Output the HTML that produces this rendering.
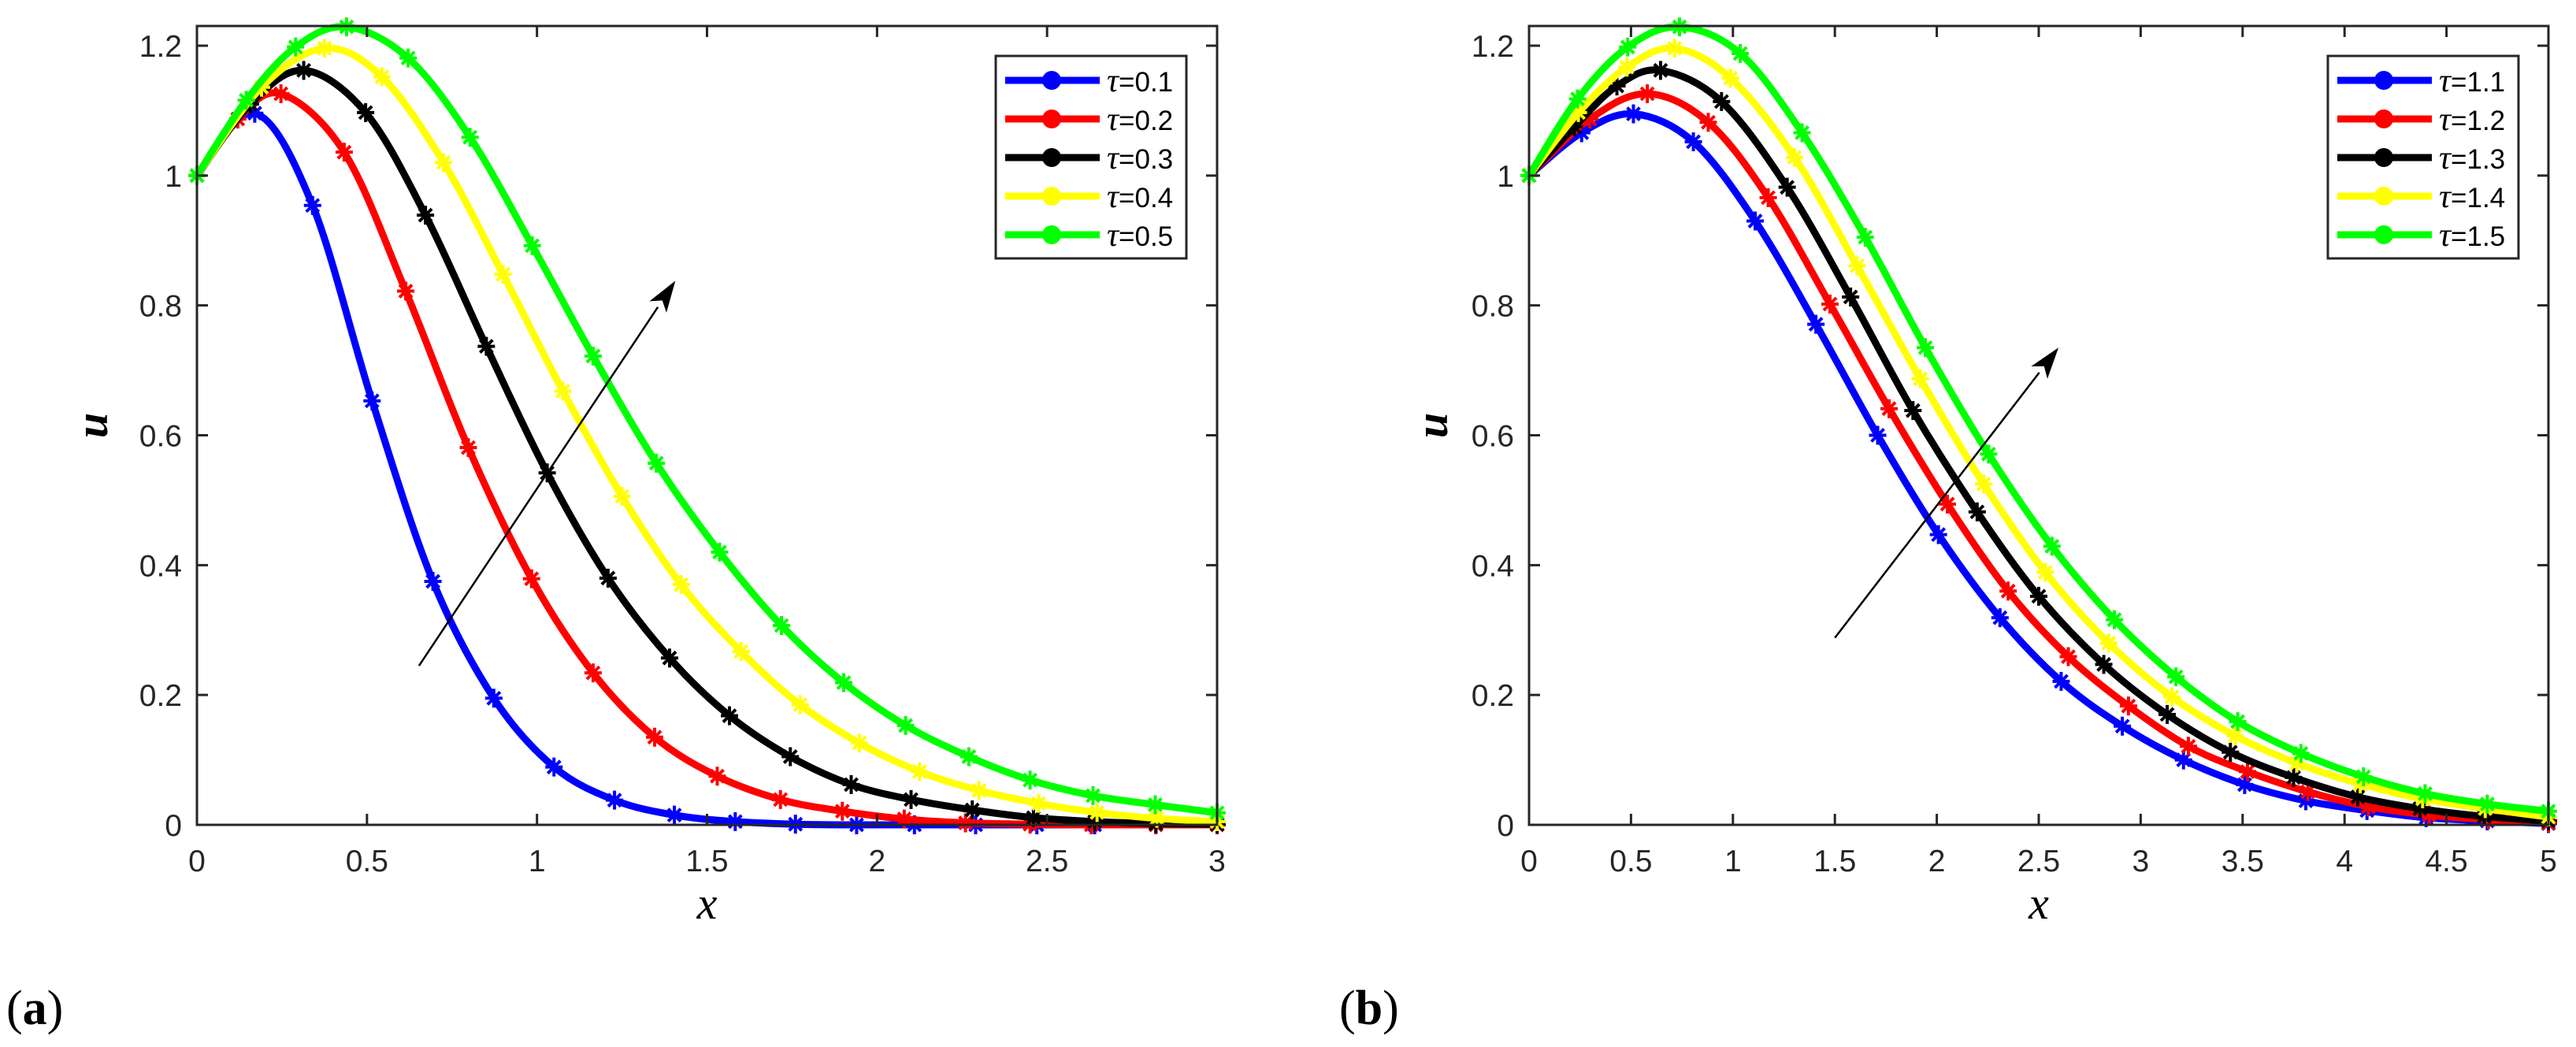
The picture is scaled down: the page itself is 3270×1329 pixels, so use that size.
<!DOCTYPE html>
<html><head><meta charset="utf-8"><style>
html,body{margin:0;padding:0;background:#fff;}
svg{display:block;}
</style></head><body>
<svg id="fig" width="3270" height="1329" viewBox="0 0 3270 1329" xmlns="http://www.w3.org/2000/svg" font-family="Liberation Sans, sans-serif"></svg>
<script>
// ---------- Panel (a) data ----------
const aTicksX = [0,0.5,1,1.5,2,2.5,3];
const aTickLabelsX = ["0","0.5","1","1.5","2","2.5","3"];
const ticksY = [0,0.2,0.4,0.6,0.8,1,1.2];
const tickLabelsY = ["0","0.2","0.4","0.6","0.8","1","1.2"];
const aLegend = ["τ=0.1","τ=0.2","τ=0.3","τ=0.4","τ=0.5"];
const a1x = [0,0.17,0.34,0.515,0.694,0.873,1.05,1.228,1.404,1.583,1.76,1.94,2.11,2.29,2.47,2.64,2.82,3.0];
const a1y = [1,1.096,0.954,0.653,0.375,0.195,0.089,0.038,0.015,0.005,0.001,0,0,0,0,0,0,0];
const a2x = [0,0.12,0.247,0.433,0.614,0.798,0.984,1.165,1.346,1.53,1.716,1.898,2.08,2.26,2.45,2.63,2.82,3.0];
const a2y = [1,1.087,1.126,1.036,0.822,0.581,0.379,0.234,0.135,0.075,0.039,0.021,0.009,0.003,0.001,0,0,0];
const a3x = [0,0.157,0.314,0.496,0.672,0.851,1.03,1.209,1.39,1.566,1.745,1.924,2.10,2.28,2.46,2.64,2.82,3.0];
const a3y = [1,1.11,1.162,1.097,0.939,0.737,0.542,0.380,0.257,0.168,0.105,0.062,0.039,0.023,0.011,0.005,0.002,0.001];
const a4x = [0,0.19,0.375,0.544,0.725,0.90,1.076,1.25,1.424,1.60,1.774,1.948,2.125,2.30,2.475,2.647,2.823,3.0];
const a4y = [1,1.136,1.196,1.152,1.02,0.848,0.668,0.506,0.37,0.267,0.185,0.126,0.082,0.053,0.033,0.019,0.010,0.005];
const a5x = [0,0.145,0.29,0.44,0.621,0.803,0.986,1.165,1.351,1.537,1.719,1.902,2.084,2.27,2.45,2.635,2.818,3.0];
const a5y = [1,1.116,1.198,1.229,1.181,1.059,0.892,0.722,0.557,0.42,0.307,0.219,0.153,0.105,0.069,0.045,0.031,0.0185];
const aArrow = [0.653,0.245,1.407,0.838];
// ---------- Panel (b) data ----------
const bTicksX = [0,0.5,1,1.5,2,2.5,3,3.5,4,4.5,5];
const bTickLabelsX = ["0","0.5","1","1.5","2","2.5","3","3.5","4","4.5","5"];
const bLegend = ["τ=1.1","τ=1.2","τ=1.3","τ=1.4","τ=1.5"];
const b1x = [0,0.258,0.512,0.806,1.109,1.407,1.71,2.008,2.31,2.61,2.91,3.21,3.51,3.81,4.11,4.40,4.70,5];
const b1y = [1,1.066,1.095,1.052,0.93,0.771,0.60,0.447,0.319,0.221,0.152,0.10,0.062,0.037,0.022,0.011,0.006,0.002];
const b2x = [0,0.298,0.58,0.879,1.173,1.476,1.766,2.052,2.35,2.645,2.94,3.234,3.524,3.82,4.117,4.415,4.706,5];
const b2y = [1,1.087,1.126,1.082,0.966,0.802,0.641,0.494,0.36,0.259,0.183,0.121,0.082,0.051,0.028,0.015,0.008,0.003];
const b3x = [0,0.222,0.431,0.645,0.944,1.266,1.577,1.883,2.198,2.5,2.819,3.13,3.44,3.75,4.065,4.37,4.685,5];
const b3y = [1,1.075,1.138,1.162,1.114,0.982,0.813,0.638,0.482,0.352,0.247,0.17,0.112,0.073,0.043,0.025,0.013,0.006];
const b4x = [0,0.242,0.48,0.714,0.988,1.302,1.609,1.919,2.23,2.532,2.843,3.153,3.464,3.766,4.077,4.383,4.69,5];
const b4y = [1,1.097,1.167,1.196,1.15,1.028,0.861,0.687,0.525,0.389,0.28,0.197,0.137,0.095,0.063,0.040,0.025,0.012];
const b5x = [0,0.238,0.484,0.738,1.036,1.339,1.649,1.944,2.254,2.565,2.871,3.173,3.476,3.786,4.093,4.395,4.70,5];
const b5y = [1,1.118,1.198,1.229,1.188,1.066,0.905,0.735,0.571,0.429,0.316,0.228,0.159,0.11,0.074,0.048,0.032,0.021];
const bArrow = [1.5,0.288,2.597,0.735];

const colors = ["#0000ff","#ff0000","#000000","#ffff00","#00ff00"];
const NS = "http://www.w3.org/2000/svg";
const SERIF = "Liberation Serif, DejaVu Serif, serif";
const svg = document.getElementById("fig");
function mk(tag, attrs, parent){
  const e = document.createElementNS(NS, tag);
  for (const k in attrs) e.setAttribute(k, attrs[k]);
  (parent||svg).appendChild(e);
  return e;
}
function catmull(pts){
  let d = "M" + pts[0][0].toFixed(1) + "," + pts[0][1].toFixed(1);
  for (let i=0;i<pts.length-1;i++){
    const p0 = pts[i-1]||pts[i], p1 = pts[i], p2 = pts[i+1], p3 = pts[i+2]||pts[i+1];
    const c1x = p1[0]+(p2[0]-p0[0])/6, c1y = p1[1]+(p2[1]-p0[1])/6;
    const c2x = p2[0]-(p3[0]-p1[0])/6, c2y = p2[1]-(p3[1]-p1[1])/6;
    d += " C"+c1x.toFixed(1)+","+c1y.toFixed(1)+" "+c2x.toFixed(1)+","+c2y.toFixed(1)+" "+p2[0].toFixed(1)+","+p2[1].toFixed(1);
  }
  return d;
}
function panel(cfg){
  const L=cfg.left, R=cfg.right, T=33, B=1047;
  const sx = v => L + (v - 0)/(cfg.xmax) * (R-L);
  const sy = v => B - v/1.2*(1047-58);
  const g = mk("g", {});
  
  
  cfg.series.forEach((s,i)=>{
    const pts = s[0].map((x,j)=>[sx(x), sy(s[1][j])]);
    const p = mk("path",{d:catmull(pts),fill:"none",stroke:colors[i],"stroke-width":9,"stroke-linejoin":"round"},g);
    
    
    pts.forEach(pt=>{
      const m = mk("path",{d:`M${pt[0]-11},${pt[1]}h22M${pt[0]},${pt[1]-12}v24M${pt[0]-8},${pt[1]-8}l16,16M${pt[0]-8},${pt[1]+8}l16,-16`,stroke:colors[i],"stroke-width":4,fill:"none"},g);
      
      
    });
  });
  const fr = mk("rect",{x:L,y:T,width:R-L,height:B-T,fill:"none",stroke:"#262626","stroke-width":3},g);
  
  
  cfg.xt.forEach((v,i)=>{
    const x = sx(v);
    mk("path",{d:`M${x},${B}v-14M${x},${T}v14`,stroke:"#262626","stroke-width":3},g);
    const t = mk("text",{x:x,y:1106,"text-anchor":"middle","font-size":39,fill:"#262626"},g);
    t.textContent = cfg.xl[i];
    
    
  });
  ticksY.forEach((v,i)=>{
    const y = sy(v);
    mk("path",{d:`M${L},${y}h14M${R},${y}h-14`,stroke:"#262626","stroke-width":3},g);
    const t = mk("text",{x:L-19,y:y+14,"text-anchor":"end","font-size":39,fill:"#262626"},g);
    t.textContent = tickLabelsY[i];
    
    
  });
  const xl = mk("text",{x:(L+R)/2,y:1166,"text-anchor":"middle","font-size":58,"font-style":"italic","font-family":SERIF,fill:"#000"},g);
  xl.textContent="x";
  
  
  const yl = mk("text",{x:0,y:0,"text-anchor":"middle","font-size":58,"font-style":"italic","font-weight":"bold","font-family":SERIF,fill:"#000",transform:`translate(${cfg.ylx},540) rotate(-90)`},g);
  yl.textContent="u";
  
  
  const a = cfg.arrow;
  const x1=sx(a[0]),y1=sy(a[1]),x2=sx(a[2]),y2=sy(a[3]);
  const ang=Math.atan2(y2-y1,x2-x1), hl=40, hw=13;
  const bx=x2-hl*Math.cos(ang), by=y2-hl*Math.sin(ang);
  const ar = mk("path",{d:`M${x1},${y1}L${bx},${by}`,stroke:"#000","stroke-width":2.5,fill:"none"},g);
  
  
  const px=-Math.sin(ang), py=Math.cos(ang);
  const ih = x2-hl*0.75*Math.cos(ang), iy = y2-hl*0.75*Math.sin(ang);
  mk("path",{d:`M${x2},${y2}L${bx+px*hw},${by+py*hw}L${ih},${iy}L${bx-px*hw},${by-py*hw}Z`,fill:"#000"},g);
  const LL=cfg.legL, LR=LL+242;
  const lg = mk("rect",{x:LL,y:71,width:LR-LL,height:257,fill:"#fff",stroke:"#262626","stroke-width":3},g);
  
  
  cfg.leg.forEach((lab,i)=>{
    const y = 102 + i*49;
    const ln = mk("line",{x1:LL+12,y1:y,x2:LL+132,y2:y,stroke:colors[i],"stroke-width":9},g);
    
    
    mk("circle",{cx:LL+71,cy:y,r:12,fill:colors[i]},g);
    const t = mk("text",{x:LL+141,y:y+14,"font-size":35,fill:"#000"},g);
    t.innerHTML = '<tspan font-family="'+SERIF+'" font-style="italic" font-size="42">τ</tspan>=' + lab.slice(2);
    
    
  });
  const pl = mk("text",{x:cfg.plx,y:1300,"font-size":62,"font-family":SERIF,fill:"#000"},g);
  pl.innerHTML = '(<tspan font-weight="bold">'+cfg.tag+'</tspan>)';
  
  
}
panel({name:"panel-a",id:"a",left:250,right:1545,xmax:3,xt:aTicksX,xl:aTickLabelsX,leg:aLegend,legL:1264,
  series:[[a1x,a1y],[a2x,a2y],[a3x,a3y],[a4x,a4y],[a5x,a5y]],arrow:aArrow,ylx:136,plx:8,tag:"a"});
panel({name:"panel-b",id:"b",left:1941,right:3235,xmax:5,xt:bTicksX,xl:bTickLabelsX,leg:bLegend,legL:2955,
  series:[[b1x,b1y],[b2x,b2y],[b3x,b3y],[b4x,b4y],[b5x,b5y]],arrow:bArrow,ylx:1837,plx:1700,tag:"b"});
</script>
</body></html>
